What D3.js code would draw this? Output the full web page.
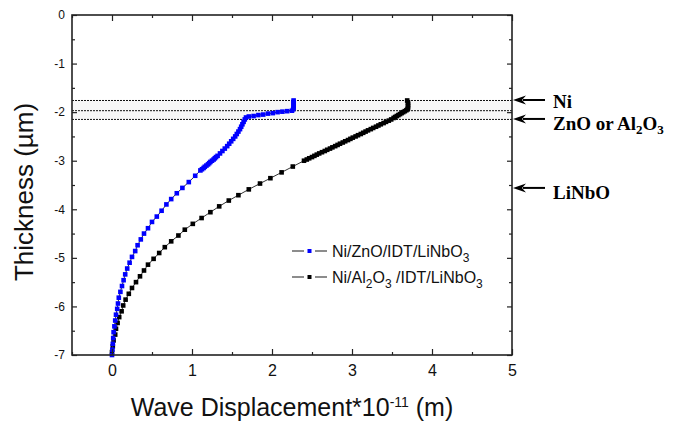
<!DOCTYPE html>
<html><head><meta charset="utf-8">
<script src="https://cdn.jsdelivr.net/npm/d3@7/dist/d3.min.js"></script>
<style>body{margin:0;background:#fff}</style>
</head><body>
<svg id="c" width="682" height="432"></svg>
<script>
// ---- data (thickness in µm, displacement in 1e-11 m) ----
const znoThickness = [
 -1.76,-1.79,-1.82,-1.85,-1.88,-1.91,-1.94,-1.97,
 -1.98,-1.99,-2.00,-2.02,-2.03,-2.05,-2.06,-2.08,-2.09,-2.11,
 -2.15,-2.20,-2.25,-2.30,-2.35,-2.40,-2.45,-2.50,-2.55,-2.60,-2.65,-2.70,-2.75,-2.80,-2.85,-2.90,-2.925,-2.95,-2.975,-3.00,-3.025,-3.05,-3.075,-3.10,-3.125,-3.15,-3.175,-3.20,
 -3.31,-3.44,-3.56,-3.67,-3.79,-3.90,-4.03,-4.15,-4.26,-4.39,-4.50,-4.62,-4.74,-4.86,-4.98,-5.10,-5.22,-5.34,-5.46,-5.58,-5.70,-5.82,-5.94,-6.05,-6.17,-6.29,-6.41,-6.53,-6.65,-6.77,-6.89,-7.00];
const znoDisp = [
 2.27,2.27,2.27,2.27,2.27,2.27,2.265,2.25,
 2.19,2.13,2.07,2.01,1.95,1.89,1.83,1.77,1.71,1.675,
 1.66,1.645,1.63,1.615,1.60,1.58,1.56,1.54,1.515,1.49,1.465,1.44,1.41,1.38,1.35,1.32,1.30,1.285,1.27,1.25,1.23,1.215,1.20,1.18,1.16,1.145,1.125,1.105,
 1.04,0.96,0.88,0.81,0.74,0.68,0.62,0.56,0.50,0.45,0.40,0.36,0.32,0.29,0.25,0.22,0.19,0.165,0.145,0.125,0.105,0.085,0.075,0.065,0.05,0.04,0.03,0.02,0.015,0.01,0.005,0.0];

const alThickness = [
 -1.76,-1.80,-1.84,-1.88,-1.92,-1.94,
 -1.96,-1.98,-2.00,-2.02,-2.04,-2.06,-2.08,-2.10,-2.12,
 -2.150,-2.175,-2.200,-2.225,-2.250,-2.275,-2.300,-2.325,-2.350,-2.375,-2.400,-2.425,-2.450,-2.475,-2.500,-2.525,-2.550,-2.575,-2.600,-2.625,-2.650,-2.675,-2.700,-2.725,-2.750,-2.775,-2.800,-2.825,-2.850,-2.875,-2.900,-2.925,-2.950,-2.975,-3.000,
 -3.12,-3.24,-3.36,-3.47,-3.59,-3.71,-3.82,-3.94,-4.06,-4.18,-4.30,-4.42,-4.54,-4.66,-4.78,-4.90,-5.02,-5.14,-5.26,-5.38,-5.50,-5.62,-5.74,-5.86,-5.98,-6.10,-6.22,-6.34,-6.46,-6.58,-6.70,-6.82,-6.94];
const alDisp = [
 3.69,3.70,3.70,3.70,3.70,3.695,
 3.68,3.66,3.64,3.62,3.60,3.58,3.56,3.54,3.52,
 3.49,3.46,3.425,3.395,3.36,3.33,3.30,3.265,3.235,3.20,3.17,3.14,3.11,3.075,3.045,3.01,2.98,2.95,2.915,2.885,2.85,2.82,2.79,2.755,2.725,2.69,2.66,2.625,2.59,2.56,2.53,2.50,2.465,2.435,2.40,
 2.26,2.12,1.98,1.85,1.71,1.58,1.46,1.34,1.23,1.12,1.01,0.91,0.83,0.74,0.66,0.59,0.52,0.45,0.40,0.35,0.30,0.25,0.21,0.17,0.14,0.12,0.09,0.07,0.05,0.04,0.02,0.01,0.0];

const xTicks = [0,1,2,3,4,5];
const xMinor = [-0.5,0.5,1.5,2.5,3.5,4.5];
const yTicks = [0,-1,-2,-3,-4,-5,-6,-7];
const yMinor = [-0.5,-1.5,-2.5,-3.5,-4.5,-5.5,-6.5];
const layerBounds = [-1.76,-1.97,-2.15];
const annotThickness = [-1.75,-2.14,-3.56];
const annotLabels = ["Ni","ZnO or Al|2|O|3","LiNbO"];
const seriesNames = ["Ni/ZnO/IDT/LiNbO|3","Ni/Al|2|O|3| /IDT/LiNbO|3"];

// ---- chart ----
const svg = d3.select("#c");
const F = "Arial, 'Liberation Sans', sans-serif";
const x = d3.scaleLinear().domain([-0.5,5]).range([72,512]);
const y = d3.scaleLinear().domain([-7,0]).range([355,15]);

// layer band
svg.append("rect").attr("x",x(-0.5)).attr("width",x(5)-x(-0.5))
  .attr("y",y(layerBounds[0])).attr("height",y(layerBounds[2])-y(layerBounds[0]))
  .attr("fill","#f7f7f7");
svg.selectAll("line.layer").data(layerBounds).join("line").attr("class","layer")
  .attr("x1",x(-0.5)).attr("x2",x(5)).attr("y1",d=>y(d)).attr("y2",d=>y(d))
  .attr("stroke","#111").attr("stroke-width",1).attr("stroke-dasharray","2,1");

function drawSeries(th, disp, color){
  const pts = th.map((t,i)=>[disp[i],t]);
  svg.append("path").attr("d", d3.line().x(d=>x(d[0])).y(d=>y(d[1]))(pts))
    .attr("fill","none").attr("stroke","#333").attr("stroke-width",1);
  const s=4.6;
  svg.append("g").selectAll("rect").data(pts).join("rect")
    .attr("x",d=>x(d[0])-s/2).attr("y",d=>y(d[1])-s/2).attr("width",s).attr("height",s)
    .attr("fill",color);
}
drawSeries(alThickness, alDisp, "#000");
drawSeries(znoThickness, znoDisp, "#0000ff");

// axes
function styleAxis(g){
  g.select(".domain").remove();
  g.selectAll(".tick line").attr("stroke","#222").attr("stroke-width",1.2);
  g.selectAll("text").attr("fill","#111").attr("font-family",F);
}
svg.append("g").attr("transform","translate(0,355)")
  .call(d3.axisBottom(x).tickValues(xTicks).tickSize(-6).tickPadding(10).tickFormat(d=>String(d)))
  .call(styleAxis).selectAll("text").attr("font-size",16);
svg.append("g").attr("transform","translate(0,355)")
  .call(d3.axisBottom(x).tickValues(xMinor).tickSize(-3).tickFormat("")).call(styleAxis);
svg.append("g").attr("transform","translate(0,15)")
  .call(d3.axisTop(x).tickValues(xTicks).tickSize(-6).tickFormat("")).call(styleAxis);
svg.append("g").attr("transform","translate(0,15)")
  .call(d3.axisTop(x).tickValues(xMinor).tickSize(-3).tickFormat("")).call(styleAxis);
svg.append("g").attr("transform","translate(72,0)")
  .call(d3.axisLeft(y).tickValues(yTicks).tickSize(-5).tickPadding(7).tickFormat(d=>String(d)))
  .call(styleAxis).selectAll("text").attr("font-size",12);
svg.append("g").attr("transform","translate(72,0)")
  .call(d3.axisLeft(y).tickValues(yMinor).tickSize(-3).tickFormat("")).call(styleAxis);
svg.append("g").attr("transform","translate(512,0)")
  .call(d3.axisRight(y).tickValues(yTicks).tickSize(-5).tickFormat("")).call(styleAxis);
svg.append("g").attr("transform","translate(512,0)")
  .call(d3.axisRight(y).tickValues(yMinor).tickSize(-3).tickFormat("")).call(styleAxis);

// frame
svg.append("rect").attr("x",x(-0.5)).attr("y",y(0)).attr("width",x(5)-x(-0.5)).attr("height",y(-7)-y(0))
  .attr("fill","none").attr("stroke","#222").attr("stroke-width",1.6);

// sub/superscript helper: parts separated by | alternate normal/sub
function richText(sel, str, size, subSize, shift){
  const parts = str.split("|");
  parts.forEach((p,i)=>{
    const isSub = i%2===1;
    const prevSub = i>0 && (i-1)%2===1;
    sel.append("tspan").text(p)
      .attr("font-size", isSub?subSize:size)
      .attr("dy", isSub?shift:(prevSub?-shift:0));
  });
}

// axis titles
const xt = svg.append("text").attr("x",292).attr("y",416).attr("text-anchor","middle")
  .attr("font-family",F).attr("font-size",25).attr("fill","#111");
xt.append("tspan").text("Wave Displacement*10");
xt.append("tspan").text("-11").attr("font-size",14).attr("dy",-9);
xt.append("tspan").text(" (m)").attr("dy",9);
svg.append("text").attr("transform","translate(33,192) rotate(-90)").attr("text-anchor","middle")
  .attr("font-family",F).attr("font-size",26).attr("fill","#111").text("Thickness (µm)");

// legend
const legColors = ["#0000ff","#000"];
seriesNames.forEach((nm,i)=>{
  const ly = 251 + i*26;
  const g = svg.append("g");
  g.append("line").attr("x1",292).attr("x2",304).attr("y1",ly).attr("y2",ly).attr("stroke","#666").attr("stroke-width",1.5);
  g.append("line").attr("x1",315).attr("x2",327).attr("y1",ly).attr("y2",ly).attr("stroke","#666").attr("stroke-width",1.5);
  g.append("rect").attr("x",307.5).attr("y",ly-2).attr("width",4).attr("height",4).attr("fill",legColors[i]);
  const t = g.append("text").attr("x",332).attr("y",ly+6).attr("font-family",F).attr("fill","#111");
  richText(t, nm, 16, 12, 5);
});

// annotations (arrows + labels)
const labelOffsets = [8,11,11];
annotThickness.forEach((t,i)=>{
  const ay = y(t);
  svg.append("line").attr("x1",523).attr("x2",545).attr("y1",ay).attr("y2",ay).attr("stroke","#000").attr("stroke-width",2);
  svg.append("path").attr("d",`M513,${ay} L526,${ay-4.5} L522,${ay} L526,${ay+4.5} Z`).attr("fill","#000");
  const tx = svg.append("text").attr("x",553).attr("y",ay+labelOffsets[i])
    .attr("font-family","'Times New Roman','Liberation Serif',serif").attr("font-weight","bold").attr("fill","#000");
  richText(tx, annotLabels[i], 19, 13, 4);
});
</script>
</body></html>
